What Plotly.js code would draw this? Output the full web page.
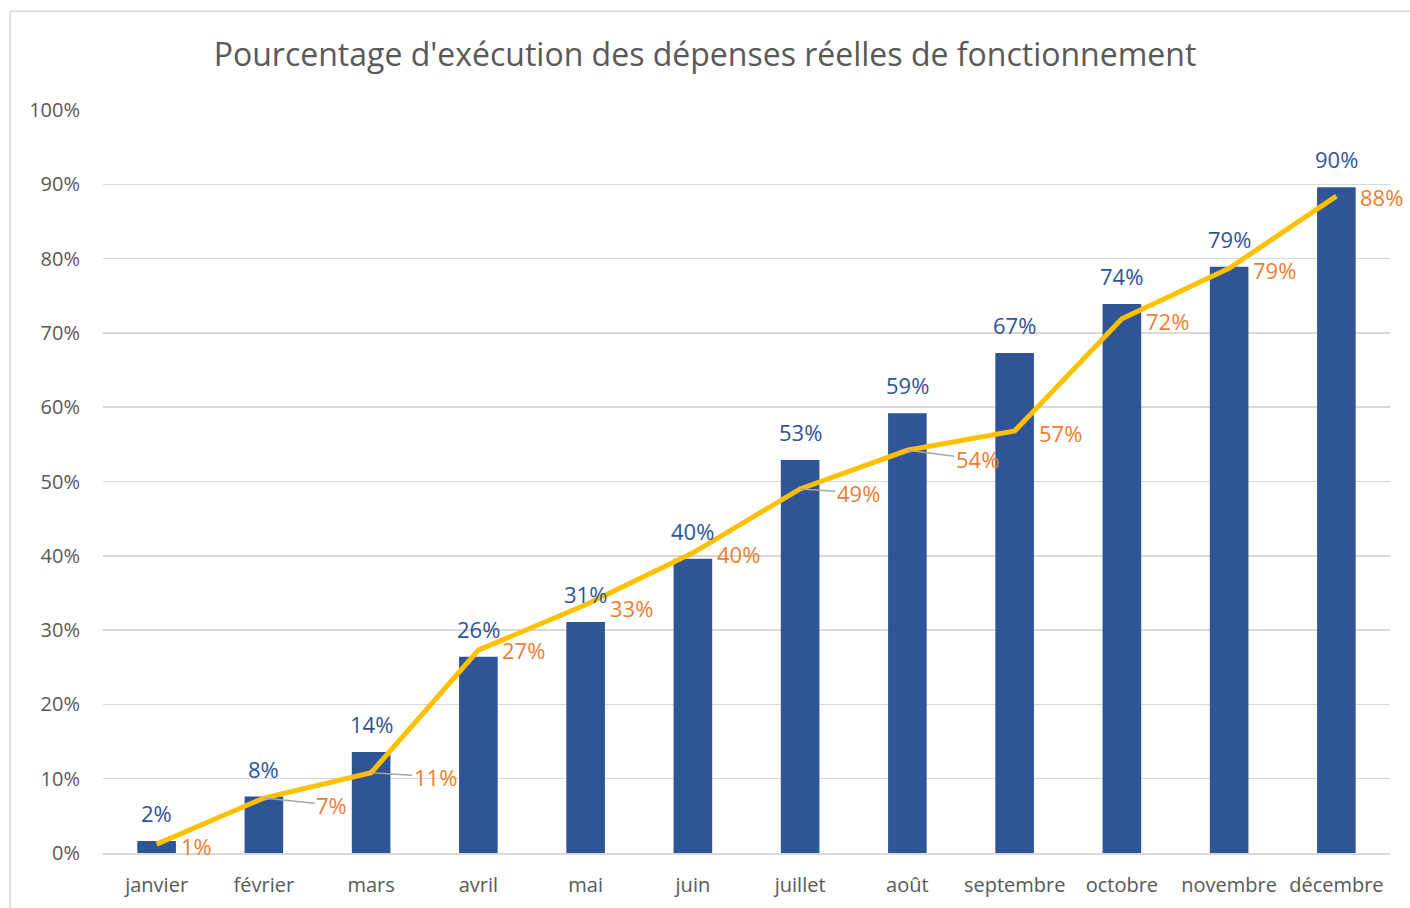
<!DOCTYPE html>
<html><head><meta charset="utf-8">
<script src="https://cdn.plot.ly/plotly-3.0.1.min.js"></script>
<style>html,body{margin:0;padding:0;background:#fff;}#chart{width:1410px;height:908px;}</style>
</head><body><div id="chart"></div>
<script>
const months = ["janvier","février","mars","avril","mai","juin","juillet","août","septembre","octobre","novembre","décembre"];
const barValues = [1.6, 7.6, 13.6, 26.4, 31.1, 39.6, 52.9, 59.2, 67.3, 73.9, 78.9, 89.6];
const lineValues = [1.2, 7.4, 10.8, 27.3, 33.4, 40.4, 49.0, 54.2, 56.8, 71.9, 78.7, 88.4];
const yTicks = [0,10,20,30,40,50,60,70,80,90,100];
const yTickText = yTicks.map(v => v + "%");

// label placement (pixels) for the line labels
const lblDx = [22, 44, 40, 22, 22, 22, 34, 46, 22, 22, 22, 22];
const lblDy = [-2, -5, -2, 0, -3, -1, -2, -7, -2, -2, -2, -1];
const leader = [false, true, true, false, false, false, true, true, false, false, false, false];

const lineAnn = lineValues.map((v,i)=>{
  const t = Math.round(v) + "%";
  if (leader[i]) {
    return {x: months[i], y: v, xref:'x', yref:'y', text: t, showarrow: true,
      arrowhead: 0, arrowwidth: 1.5, arrowcolor: '#A6A6A6', ax: lblDx[i]+24, ay: -lblDy[i]+2,
      standoff: 0, startstandoff: 0, xanchor:'center',
      font:{family:'Open Sans, sans-serif', size:22, color:'#ED7D31'}};
  }
  return {x: months[i], y: v, xref:'x', yref:'y', text: t, showarrow:false,
    xanchor:'left', yanchor:'middle', xshift: lblDx[i], yshift: lblDy[i],
    font:{family:'Open Sans, sans-serif', size:22, color:'#ED7D31'}};
});
const barAnn = barValues.map((v,i)=>({
  x: months[i], y: v, xref:'x', yref:'y', text: Math.round(v) + "%", showarrow:false,
  xanchor:'center', yanchor:'bottom', yshift: 11,
  font:{family:'Open Sans, sans-serif', size:22, color:'#2F5597'}
}));

const bars = {
  type:'bar', x: months, y: barValues, marker:{color:'#2F5597'},
  hoverinfo:'skip', showlegend:false
};
const line = {
  type:'scatter', mode:'lines', x: months, y: lineValues,
  line:{color:'#FFC000', width:5}, hoverinfo:'skip', showlegend:false
};

const layout = {
  width:1410, height:908,
  margin:{l:103, r:20, t:110, b:55},
  paper_bgcolor:'#fff', plot_bgcolor:'#fff',
  font:{family:'Open Sans, sans-serif', color:'#595959'},
  title:{text:"Pourcentage d'exécution des dépenses réelles de fonctionnement",
    font:{family:'Open Sans, sans-serif', size:32, color:'#595959'},
    x:0.5, xanchor:'center', y:0.94, yanchor:'middle'},
  bargap:0.64,
  xaxis:{type:'category', range:[-0.5, 11.5], autorange:false, tickfont:{size:20, color:'#595959'}, showgrid:false,
    showline:true, linecolor:'#D9D9D9', linewidth:1.5, ticks:'', ticklen:0, ticklabelstandoff:13},
  yaxis:{range:[0,100], autorange:false, tickvals:yTicks, ticktext:yTickText, showgrid:true, gridcolor:'#D9D9D9',
    gridwidth:1.5, zeroline:false, tickfont:{size:20, color:'#595959'}, ticks:'', ticklabelstandoff:22},
  annotations: barAnn.concat(lineAnn),
  shapes:[
    {type:'line', xref:'paper', yref:'paper', x0:-0.0723, x1:-0.0723, y0:-0.1, y1:1.133, line:{color:'#D9D9D9', width:1.5}},
    {type:'line', xref:'paper', yref:'paper', x0:-0.0723, x1:1.05, y0:1.133, y1:1.133, line:{color:'#D9D9D9', width:1.5}}
  ]
};
Plotly.newPlot('chart', [bars, line], layout, {displayModeBar:false, staticPlot:true});
</script></body></html>
